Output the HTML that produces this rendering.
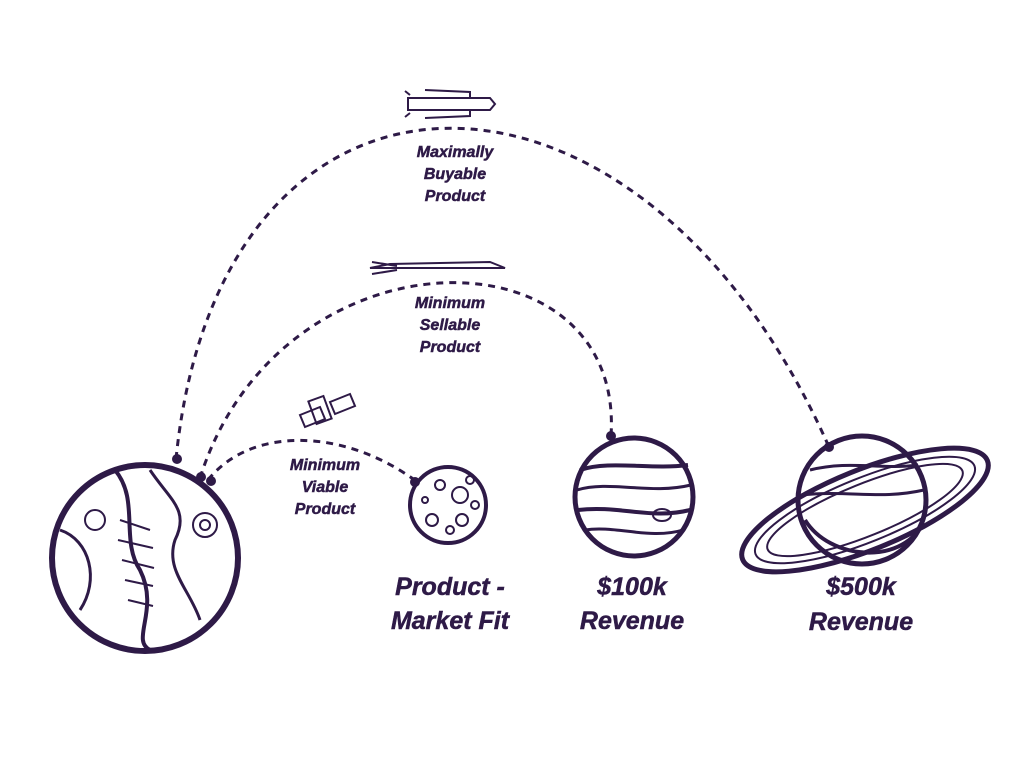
<!DOCTYPE html>
<html><head><meta charset="utf-8"><style>
html,body{margin:0;padding:0;background:#fff;}
svg{display:block;}
text{font-family:"Liberation Sans",sans-serif;font-weight:bold;font-style:italic;fill:#2e1a47;stroke:#2e1a47;stroke-width:0.5;text-anchor:middle;}
</style></head><body>
<svg width="1024" height="768" viewBox="0 0 1024 768" xmlns="http://www.w3.org/2000/svg">
<g fill="none" stroke="#2e1a47" stroke-width="3" stroke-dasharray="7 6">
<path d="M176 459 C220 20, 640 20, 829 447"/>
<path d="M200 478 C280 225, 625 225, 611 436"/>
<path d="M208 480 C250 427, 342 427, 416 481"/>
</g>
<g fill="#2e1a47">
<circle cx="177" cy="459" r="5"/><circle cx="829" cy="447" r="5"/>
<circle cx="201" cy="477" r="5"/><circle cx="611" cy="436" r="5"/>
<circle cx="211" cy="481" r="5"/><circle cx="415" cy="482" r="5"/>
</g>
<!-- Earth -->
<g stroke="#2e1a47" fill="none">
<circle cx="145" cy="558" r="93" stroke-width="6"/>
<path d="M115 470 C140 500 120 540 140 570 C160 610 130 640 150 650" stroke-width="4"/>
<path d="M150 470 C170 500 190 510 175 540 C165 570 190 590 200 620" stroke-width="3"/>
<path d="M60 530 C90 540 100 580 80 610" stroke-width="3"/>
<path d="M120 520 l30 10 M118 540 l35 8 M122 560 l32 8 M125 580 l28 6 M128 600 l25 6" stroke-width="2"/>
<circle cx="95" cy="520" r="10" stroke-width="2"/><circle cx="205" cy="525" r="12" stroke-width="2"/>
<circle cx="205" cy="525" r="5" stroke-width="2"/>
</g>
<!-- Moon -->
<g stroke="#2e1a47" fill="none" stroke-width="2">
<circle cx="448" cy="505" r="38" stroke-width="4"/>
<circle cx="460" cy="495" r="8"/><circle cx="440" cy="485" r="5"/><circle cx="432" cy="520" r="6"/>
<circle cx="462" cy="520" r="6"/><circle cx="425" cy="500" r="3"/><circle cx="475" cy="505" r="4"/>
<circle cx="450" cy="530" r="4"/><circle cx="470" cy="480" r="4"/>
</g>
<!-- Jupiter -->
<g stroke="#2e1a47" fill="none">
<circle cx="634" cy="497" r="59" stroke-width="5"/>
<path d="M580 470 C610 460 650 470 688 465" stroke-width="4"/>
<path d="M577 490 C610 480 650 495 691 485" stroke-width="3"/>
<path d="M578 510 C620 505 650 520 690 510" stroke-width="4"/>
<path d="M585 530 C615 525 650 540 683 530" stroke-width="3"/>
<ellipse cx="662" cy="515" rx="9" ry="6" stroke-width="2"/>
</g>
<!-- Saturn -->
<g stroke="#2e1a47" fill="none">
<circle cx="862" cy="500" r="64" stroke-width="5"/>
<path d="M810 470 C850 460 880 470 918 465 M801 495 C850 490 880 500 924 490" stroke-width="3"/>
<ellipse cx="865" cy="510" rx="132" ry="40" transform="rotate(-22 865 510)" stroke-width="5"/>
<ellipse cx="865" cy="510" rx="118" ry="32" transform="rotate(-22 865 510)" stroke-width="2"/>
<ellipse cx="865" cy="510" rx="105" ry="26" transform="rotate(-22 865 510)" stroke-width="2"/>
</g>
<path d="M805 520 C830 560 900 565 922 525" stroke="#2e1a47" stroke-width="4" fill="none"/>
<!-- Spacecraft -->
<g stroke="#2e1a47" fill="none" stroke-width="2">
<path d="M300 415 l20 -8 l5 12 l-20 8 z M330 402 l20 -8 l5 12 l-20 8 z"/>
<rect x="312" y="398" width="16" height="24" transform="rotate(-20 320 410)"/>
<path d="M370 268 L505 268 L490 262 L390 264 Z M372 262 l25 4 M372 274 l25 -4"/>
<path d="M408 98 L490 98 L495 104 L490 110 L408 110 Z M425 90 L470 92 L470 98 M425 118 L470 116 L470 110 M410 95 l-5 -4 M410 113 l-5 4"/>
</g>
<text x="455" y="157" font-size="16">Maximally</text>
<text x="455" y="179" font-size="16">Buyable</text>
<text x="455" y="201" font-size="16">Product</text>
<text x="450" y="308" font-size="16">Minimum</text>
<text x="450" y="330" font-size="16">Sellable</text>
<text x="450" y="352" font-size="16">Product</text>
<text x="325" y="470" font-size="16">Minimum</text>
<text x="325" y="492" font-size="16">Viable</text>
<text x="325" y="514" font-size="16">Product</text>
<text x="450" y="595" font-size="25">Product -</text>
<text x="450" y="629" font-size="25">Market Fit</text>
<text x="632" y="595" font-size="25">$100k</text>
<text x="632" y="629" font-size="25">Revenue</text>
<text x="861" y="595" font-size="25">$500k</text>
<text x="861" y="630" font-size="25">Revenue</text>
</svg>
</body></html>
